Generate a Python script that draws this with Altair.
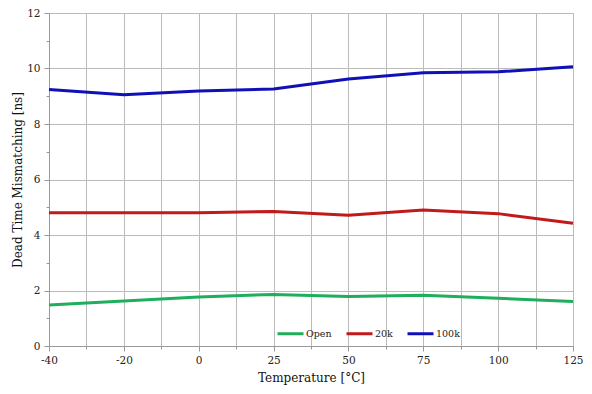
import altair as alt
import pandas as pd

temps = ["-40", "-20", "0", "25", "50", "75", "100", "125"]
open_vals = [1.48, 1.62, 1.77, 1.86, 1.78, 1.83, 1.72, 1.60]
k20_vals = [4.80, 4.80, 4.80, 4.85, 4.71, 4.90, 4.77, 4.42]
k100_vals = [9.24, 9.05, 9.19, 9.26, 9.62, 9.85, 9.88, 10.06]
series = ["Open", "20k", "100k"]
colors = ["#1fae5c", "#c01a1a", "#1010b8"]

rows = []
for name, vals in zip(series, [open_vals, k20_vals, k100_vals]):
    for i, (t, v) in enumerate(zip(temps, vals)):
        rows.append({"idx": i, "temp": t, "value": v, "series": name})
df = pd.DataFrame(rows)

label_arr = "[" + ",".join("'" + t + "'" for t in temps) + "]"
xvals = [i * 0.5 for i in range(2 * len(temps) - 1)]

font = "DejaVu Serif"

chart = alt.Chart(df).mark_line(strokeWidth=3).encode(
    x=alt.X("idx:Q",
            scale=alt.Scale(domain=[0, len(temps) - 1], nice=False, zero=False),
            axis=alt.Axis(values=xvals,
                          labelExpr="datum.value % 1 == 0 ? " + label_arr + "[datum.value] : ''",
                          title="Temperature [°C]",
                          tickSize={"expr": "datum.value % 1 == 0 ? 5 : 3"},
                          labelFlush=False, titlePadding=7)),
    y=alt.Y("value:Q",
            scale=alt.Scale(domain=[0, 12], nice=False),
            axis=alt.Axis(values=list(range(0, 13)),
                          labelExpr="datum.value % 2 == 0 ? datum.label : ''",
                          gridOpacity={"expr": "datum.value % 2 == 0 ? 1 : 0"},
                          tickSize={"expr": "datum.value % 2 == 0 ? 5 : 3"},
                          titlePadding=2,
                          title="Dead Time Mismatching  [ns]")),
    color=alt.Color("series:N",
                    scale=alt.Scale(domain=series, range=colors),
                    legend=alt.Legend(orient="none", legendX=227, legendY=306,
                                      direction="horizontal", title=None,
                                      symbolType="stroke", symbolSize=676,
                                      symbolStrokeWidth=3, labelFont=font,
                                      labelFontSize=9.5, columnPadding=8,
                                      labelOffset=1, symbolOffset=0,
                                      labelColor="#222")),
).properties(
    width=524, height=333,
    autosize=alt.AutoSizeParams(type="none"),
    padding={"left": 41, "top": 5, "right": 11, "bottom": 40}
).configure_axis(
    labelFont=font, titleFont=font, labelFontSize=10.5, titleFontSize=12,
    titleFontWeight="normal", labelColor="#222", titleColor="#111",
    gridColor="#bbbbbb", domainColor="#999", tickColor="#999",
    labelPadding=4
).configure_view(stroke="#bbbbbb")

chart.save("out.html", embed_options={"renderer": "svg", "actions": False})
